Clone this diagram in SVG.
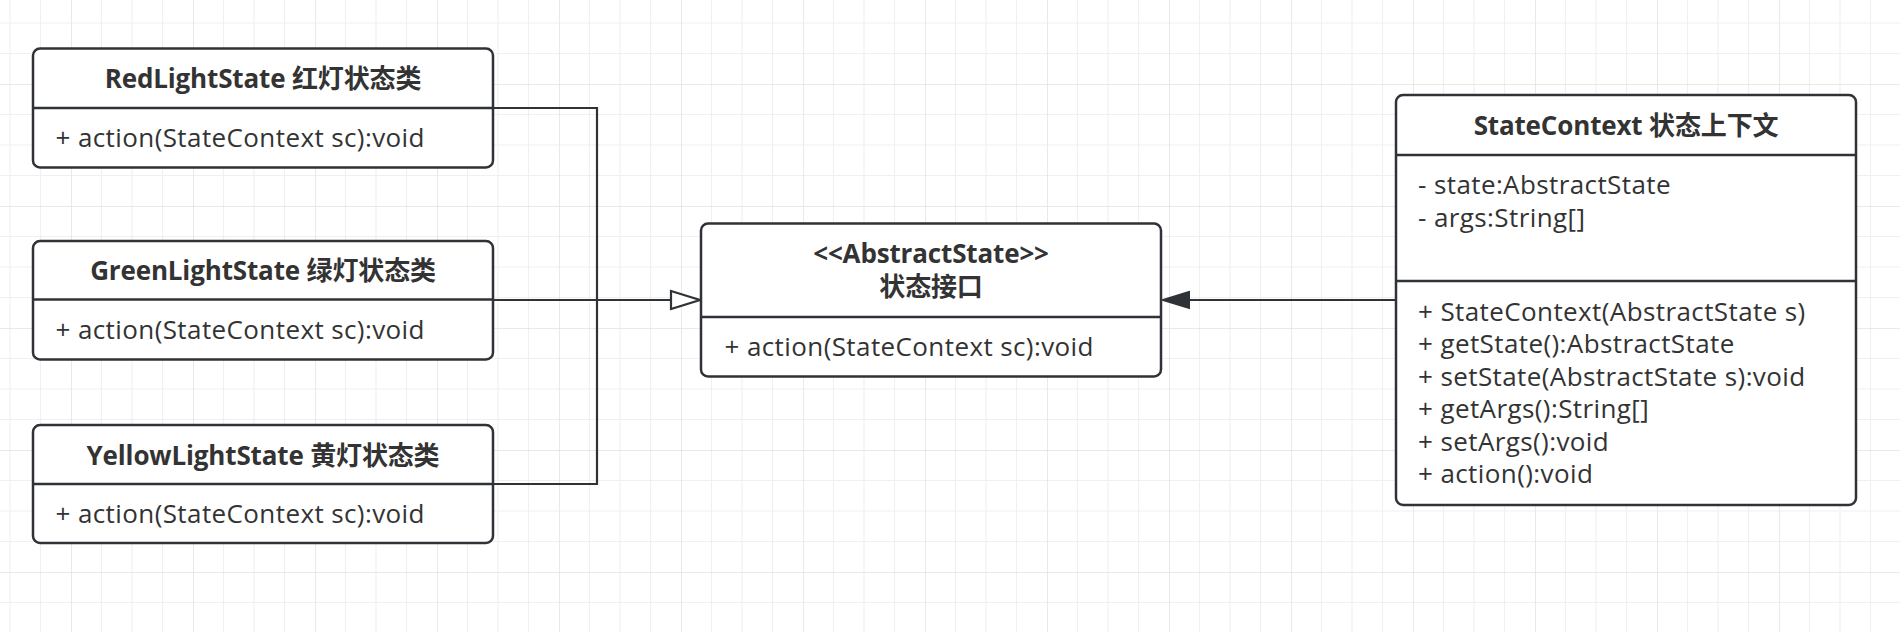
<svg xmlns="http://www.w3.org/2000/svg" width="1900" height="632" viewBox="0 0 1900 632">
<style>
.box{fill:#ffffff;stroke:#2f3237;stroke-width:2.5}
.div{stroke:#2f3237;stroke-width:2.5;fill:none}
.conn{stroke:#2f3237;stroke-width:2.2;fill:none}
.t{font-family:"Open Sans","Noto Sans CJK SC",sans-serif;font-size:26px;fill:#333333;letter-spacing:0.4px}
.h{font-weight:bold;text-anchor:middle;letter-spacing:-0.15px}
</style>
<defs>
<pattern id="grid" patternUnits="userSpaceOnUse" x="71" y="84" width="122" height="122">
<path d="M30.5 0V122M61 0V122M91.5 0V122M0 30.5H122M0 61H122M0 91.5H122" stroke="#f0f0f0" stroke-width="1.2" fill="none"/>
<path d="M0 0V122M0 0H122" stroke="#e2e2e2" stroke-width="1.5" fill="none"/>
</pattern>
</defs>
<rect width="1900" height="632" fill="#ffffff"/>
<rect width="1900" height="632" fill="url(#grid)"/>
<g id="connectors">
<path class="conn" d="M493 108H597V484H493"/>
<path class="conn" d="M493 300H671"/>
<polygon points="671,291 700,300 671,309" fill="#ffffff" stroke="#2f3237" stroke-width="2.2"/>
<path class="conn" d="M1396 300H1189"/>
<polygon points="1189,292 1163,300 1189,308" fill="#2f3237" stroke="#2f3237" stroke-width="2"/>
</g>
<g id="red">
<rect class="box" x="33" y="48.5" width="460" height="119" rx="7"/>
<path class="div" d="M33 108H493"/>
<text class="t h" x="263" y="88">RedLightState 红灯状态类</text>
<text class="t" x="55.5" y="147">+ action(StateContext sc):void</text>
</g>
<g id="green">
<rect class="box" x="33" y="241" width="460" height="118.5" rx="7"/>
<path class="div" d="M33 299.5H493"/>
<text class="t h" x="263" y="279.5">GreenLightState 绿灯状态类</text>
<text class="t" x="55.5" y="338.5">+ action(StateContext sc):void</text>
</g>
<g id="yellow">
<rect class="box" x="33" y="425" width="460" height="118" rx="7"/>
<path class="div" d="M33 484H493"/>
<text class="t h" x="263" y="465">YellowLightState 黄灯状态类</text>
<text class="t" x="55.5" y="523">+ action(StateContext sc):void</text>
</g>
<g id="abstract">
<rect class="box" x="701" y="223.5" width="460" height="153" rx="7"/>
<path class="div" d="M701 317H1161"/>
<text class="t h" x="931" y="262.5">&lt;&lt;AbstractState&gt;&gt;</text>
<text class="t h" x="931" y="296">状态接口</text>
<text class="t" x="724.5" y="356">+ action(StateContext sc):void</text>
</g>
<g id="context">
<rect class="box" x="1396" y="95" width="460" height="410" rx="7"/>
<path class="div" d="M1396 155H1856M1396 281H1856"/>
<text class="t h" x="1626" y="135">StateContext 状态上下文</text>
<text class="t" x="1418" y="194">- state:AbstractState</text>
<text class="t" x="1418" y="226.5">- args:String[]</text>
<text class="t" x="1418" y="320.5">+ StateContext(AbstractState s)</text>
<text class="t" x="1418" y="353">+ getState():AbstractState</text>
<text class="t" x="1418" y="385.5">+ setState(AbstractState s):void</text>
<text class="t" x="1418" y="418">+ getArgs():String[]</text>
<text class="t" x="1418" y="450.5">+ setArgs():void</text>
<text class="t" x="1418" y="483">+ action():void</text>
</g>
</svg>
